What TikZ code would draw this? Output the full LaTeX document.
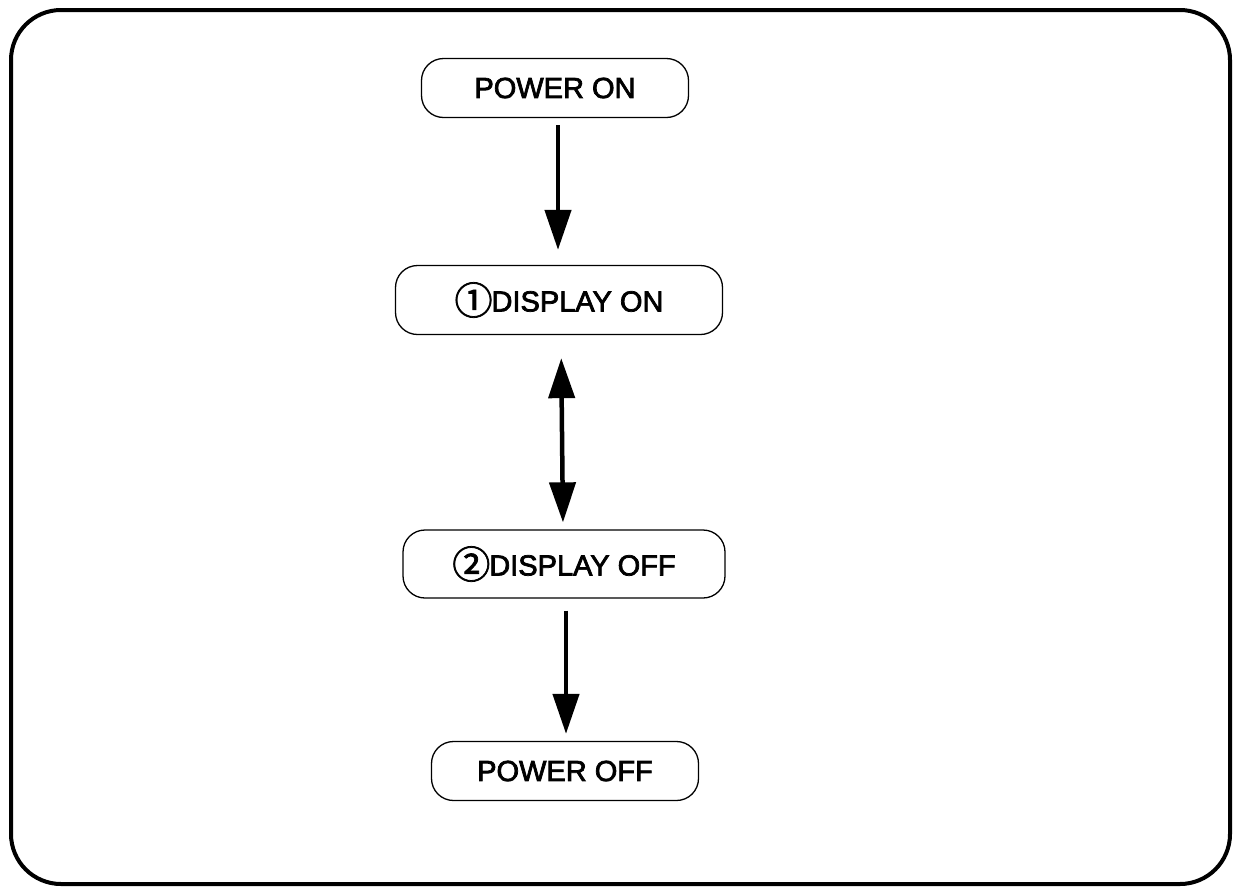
\documentclass[tikz,border=0pt]{standalone}
\usepackage{fontspec}
\newfontfamily\jpfont{Noto Sans CJK JP}[FakeBold=2]
\newfontfamily\labfont{Liberation Sans}[FakeBold=2.5]
\usetikzlibrary{arrows.meta}
\newcommand{\circnum}[1]{{\jpfont\fontsize{38}{38}\selectfont\raisebox{-3pt}{#1}}\kern-1pt}
\begin{document}
\begin{tikzpicture}[x=1pt,y=-1pt,
  stepbox/.style={draw,line width=1.3pt,rounded corners=22pt,minimum height=59pt,inner sep=0pt,font=\labfont\fontsize{29}{32}\selectfont},
  arr/.style={line width=4.5pt,-{Triangle[length=40pt,width=26pt]}},
  darr/.style={line width=4.5pt,{Triangle[length=40pt,width=26pt]}-{Triangle[length=40pt,width=26pt]}}]
\useasboundingbox (0,0) rectangle (1240,887);
\draw[line width=4pt,rounded corners=50pt] (11,10) rectangle (1230,884);
\node[stepbox,minimum width=267pt] (pon) at (555,88) {POWER ON};
\node[stepbox,minimum width=327pt,minimum height=69pt] (don) at (559,300) {\circnum{①}DISPLAY ON};
\node[stepbox,minimum width=322pt,minimum height=68pt] (doff) at (564,564) {\circnum{②}DISPLAY OFF};
\node[stepbox,minimum width=267pt] (poff) at (565,771) {POWER OFF};
\draw[arr,shorten <=7pt,shorten >=15pt] ([xshift=3pt]pon.south) -- ([xshift=-1pt]don.north);
\draw[darr,shorten <=23pt,shorten >=7pt] ([xshift=2pt]don.south) -- ([xshift=-1pt]doff.north);
\draw[arr,shorten <=12pt,shorten >=7pt] ([xshift=2pt]doff.south) -- ([xshift=1pt]poff.north);
\end{tikzpicture}
\end{document}
